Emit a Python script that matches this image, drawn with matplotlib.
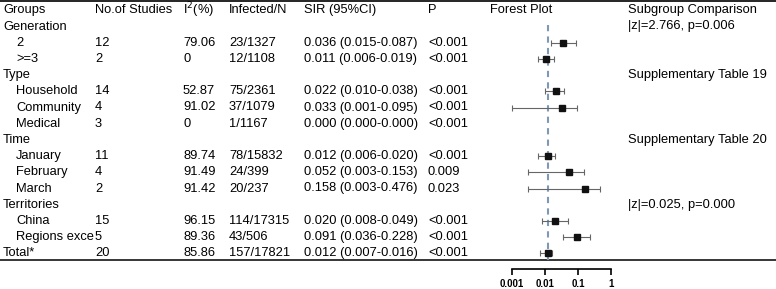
import matplotlib.pyplot as plt
from matplotlib.transforms import Bbox, TransformedBbox

plt.rcParams['font.family'] = ['Liberation Sans', 'DejaVu Sans']

# table data
groups = ['Generation', '2', '>=3', 'Type', 'Household', 'Community', 'Medical',
          'Time', 'January', 'February', 'March', 'Territories', 'China',
          'Regions except China', 'Total*']
is_header = [True, False, False, True, False, False, False,
             True, False, False, False, True, False, False, False]
n_studies = ['', '12', '2', '', '14', '4', '3', '', '11', '4', '2', '', '15', '5', '20']
i2 = ['', '79.06', '0', '', '52.87', '91.02', '0', '', '89.74', '91.49', '91.42',
      '', '96.15', '89.36', '85.86']
infected = ['', '23/1327', '12/1108', '', '75/2361', '37/1079', '1/1167', '',
            '78/15832', '24/399', '20/237', '', '114/17315', '43/506', '157/17821']
sir_txt = ['', '0.036 (0.015-0.087)', '0.011 (0.006-0.019)', '',
           '0.022 (0.010-0.038)', '0.033 (0.001-0.095)', '0.000 (0.000-0.000)', '',
           '0.012 (0.006-0.020)', '0.052 (0.003-0.153)', '0.158 (0.003-0.476)', '',
           '0.020 (0.008-0.049)', '0.091 (0.036-0.228)', '0.012 (0.007-0.016)']
p_txt = ['', '<0.001', '<0.001', '', '<0.001', '<0.001', '<0.001', '',
         '<0.001', '0.009', '0.023', '', '<0.001', '<0.001', '<0.001']
sir = [None, 0.036, 0.011, None, 0.022, 0.033, None, None,
       0.012, 0.052, 0.158, None, 0.020, 0.091, 0.012]
lo = [None, 0.015, 0.006, None, 0.010, 0.001, None, None,
      0.006, 0.003, 0.003, None, 0.008, 0.036, 0.007]
hi = [None, 0.087, 0.019, None, 0.038, 0.095, None, None,
      0.020, 0.153, 0.476, None, 0.049, 0.228, 0.016]
subgroup = {0: '|z|=2.766, p=0.006', 3: 'Supplementary Table 19',
            7: 'Supplementary Table 20', 11: '|z|=0.025, p=0.000'}
pooled = 0.012
ticks = [0.001, 0.01, 0.1, 1]
tick_labels = ['0.001', '0.01', '0.1', '1']

W, H = 776, 289
fig = plt.figure(figsize=(W / 100, H / 100), dpi=100)
ax = fig.add_axes([0, 0, 1, 1])
ax.set_xlim(0, W)
ax.set_ylim(H, 0)
ax.axis('off')

fs = 9.3
y_head = 10
y0 = 26.5
dy = 16.2
cols = [3, 95, 183, 229, 304, 428]
heads = ['Groups', 'No.of Studies', 'I$^2$(%)', 'Infected/N', 'SIR (95%CI)', 'P']
for x, h in zip(cols, heads):
    ax.text(x, y_head, h, fontsize=fs, va='center', ha='left')
ax.text(490, y_head, 'Forest Plot', fontsize=fs, va='center', ha='left')
ax.text(628, y_head, 'Subgroup Comparison', fontsize=fs, va='center', ha='left')

# lines
ax.plot([0, W], [1, 1], color='black', lw=1.2)
ax.plot([0, W], [260, 260], color='black', lw=1.1)

# group names get cut at the next column
clip = TransformedBbox(Bbox([[0, 0], [93.5 / W, 1]]), fig.transFigure)
for i, g in enumerate(groups):
    y = y0 + i * dy
    x = 3 if (is_header[i] or g == 'Total*') else 16
    t = ax.text(x, y, g, fontsize=fs, va='center', ha='left')
    t.set_clip_box(clip)
    t.set_clip_on(True)
    for x, v in zip(cols[1:], [n_studies[i], i2[i], infected[i], sir_txt[i], p_txt[i]]):
        ax.text(x, y, v, fontsize=fs, va='center', ha='left')
    if i in subgroup:
        ax.text(628, y, subgroup[i], fontsize=fs, va='center', ha='left')

# forest plot
fx0, fx1 = 512, 611
fa = fig.add_axes([fx0 / W, 0, (fx1 - fx0) / W, 1])
fa.set_xscale('log')
fa.set_xlim(0.001, 1)
fa.set_ylim(H, 0)
fa.patch.set_alpha(0)
for s in ['top', 'left', 'right']:
    fa.spines[s].set_visible(False)
fa.spines['bottom'].set_position(('data', 269))
fa.spines['bottom'].set_bounds(0.001, 1)
fa.spines['bottom'].set_linewidth(1.2)
fa.set_yticks([])
fa.set_xticks(ticks)
fa.set_xticklabels(tick_labels, fontsize=7, fontweight='bold')
fa.minorticks_off()
fa.tick_params(axis='x', direction='out', length=4, width=1.2, pad=3)
for lbl in fa.get_xticklabels():
    lbl.set_clip_on(False)

fa.plot([pooled, pooled], [25, 260], color='#7f98b3', lw=1.5, ls=(0, (3, 2.5)))
for i in range(len(groups)):
    if sir[i] is None:
        continue
    y = y0 + i * dy
    fa.errorbar(sir[i], y, xerr=[[sir[i] - lo[i]], [hi[i] - sir[i]]], fmt='s',
                color='#111111', ecolor='#666666', elinewidth=0.8, capsize=2.5,
                capthick=0.8, markersize=5, clip_on=False)

fig.savefig('out.png', dpi=100)
